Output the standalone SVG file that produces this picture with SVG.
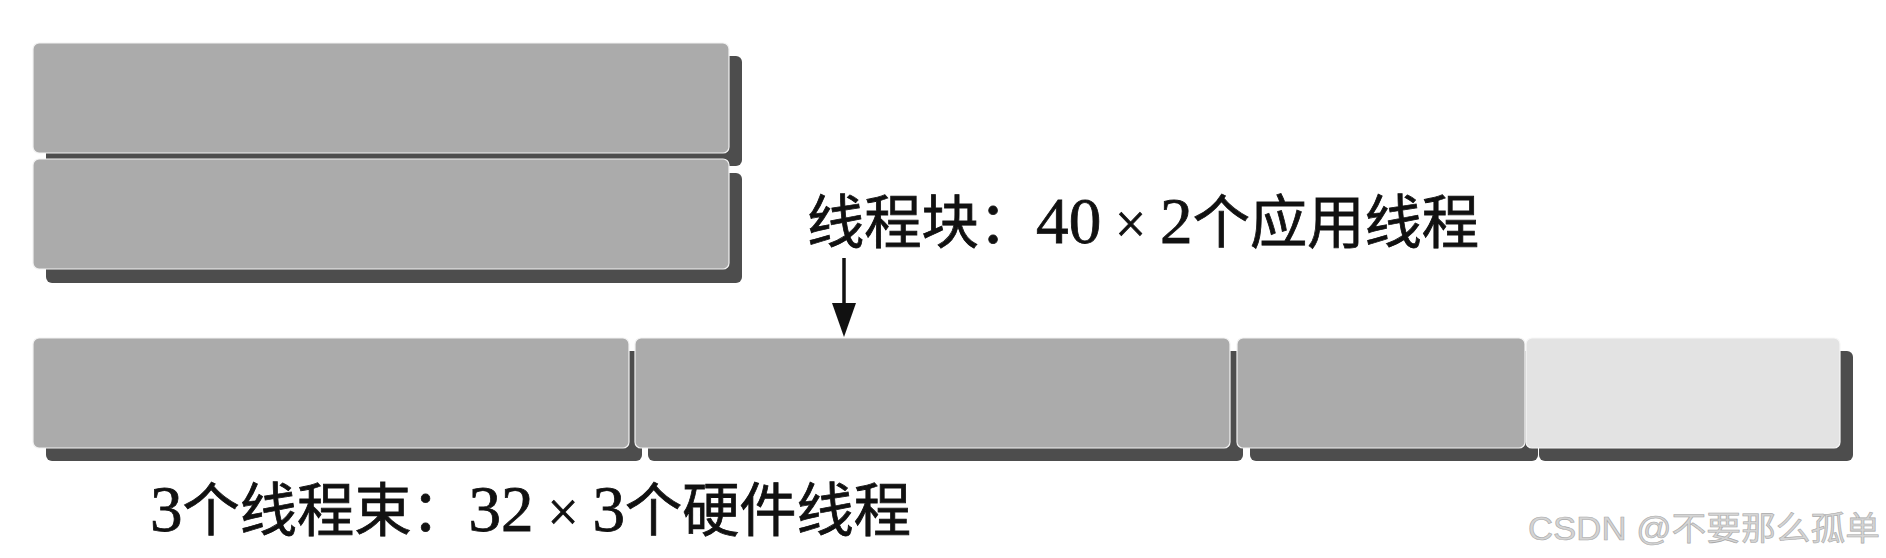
<svg xmlns="http://www.w3.org/2000/svg" width="1886" height="558" viewBox="0 0 1886 558">
<style>
.blk{fill:#ababab;stroke:#f2f2f2;stroke-width:1.2}
.lt{fill:#e3e3e3;stroke:#f7f7f7;stroke-width:1.2}
.sh{fill:#4d4d4d}
.lbl{font-family:"Liberation Serif","Noto Sans CJK SC",serif;font-size:58px;fill:#111;stroke:#111;stroke-width:0.8}
.num{font-family:"Liberation Serif",serif;font-size:66px}
.x{font-family:"Liberation Serif",serif;font-size:56px}
.wm{font-family:"Liberation Sans","Noto Sans CJK SC",sans-serif;font-size:33px;fill:#d4d4d4;stroke:#a8a8a8;stroke-width:0.6}
</style>
<rect width="1886" height="558" fill="#ffffff"/>
<g id="app-block-1">
<rect class="sh" x="46" y="56" width="696" height="110" rx="6"/>
<rect class="blk" x="33" y="43" width="696" height="110" rx="6"/>
</g>
<g id="app-block-2">
<rect class="sh" x="46" y="173" width="696" height="110" rx="6"/>
<rect class="blk" x="33" y="159" width="696" height="110" rx="6"/>
</g>
<g id="warp-1">
<rect class="sh" x="46" y="351" width="596" height="110" rx="6"/>
<rect class="blk" x="33" y="338" width="596" height="110" rx="6"/>
</g>
<g id="warp-2">
<rect class="sh" x="648" y="351" width="595" height="110" rx="6"/>
<rect class="blk" x="635" y="338" width="595" height="110" rx="6"/>
</g>
<g id="warp-3">
<rect class="sh" x="1250" y="351" width="288" height="110" rx="6"/>
<rect class="blk" x="1237" y="338" width="288" height="110" rx="6"/>
</g>
<g id="warp-3-unused">
<rect class="sh" x="1539" y="351" width="314" height="110" rx="6"/>
<rect class="lt" x="1526" y="338" width="314" height="110" rx="6"/>
</g>
<g id="connectors">
<path d="M844,258 L844,306" stroke="#111" stroke-width="3.5" fill="none"/>
<path d="M832,303 L856,303 L844,337 Z" fill="#111"/>
</g>
<g id="labels">
<text class="lbl" x="807" y="243" textLength="672" lengthAdjust="spacingAndGlyphs">线程块：<tspan class="num">40</tspan><tspan class="x"> × </tspan><tspan class="num">2</tspan>个应用线程</text>
<text class="lbl" x="150" y="531" textLength="761" lengthAdjust="spacingAndGlyphs"><tspan class="num">3</tspan>个线程束：<tspan class="num">32</tspan><tspan class="x"> × </tspan><tspan class="num">3</tspan>个硬件线程</text>
<text class="wm" x="1528" y="540" textLength="352" lengthAdjust="spacingAndGlyphs">CSDN @不要那么孤单</text>
</g>
</svg>
